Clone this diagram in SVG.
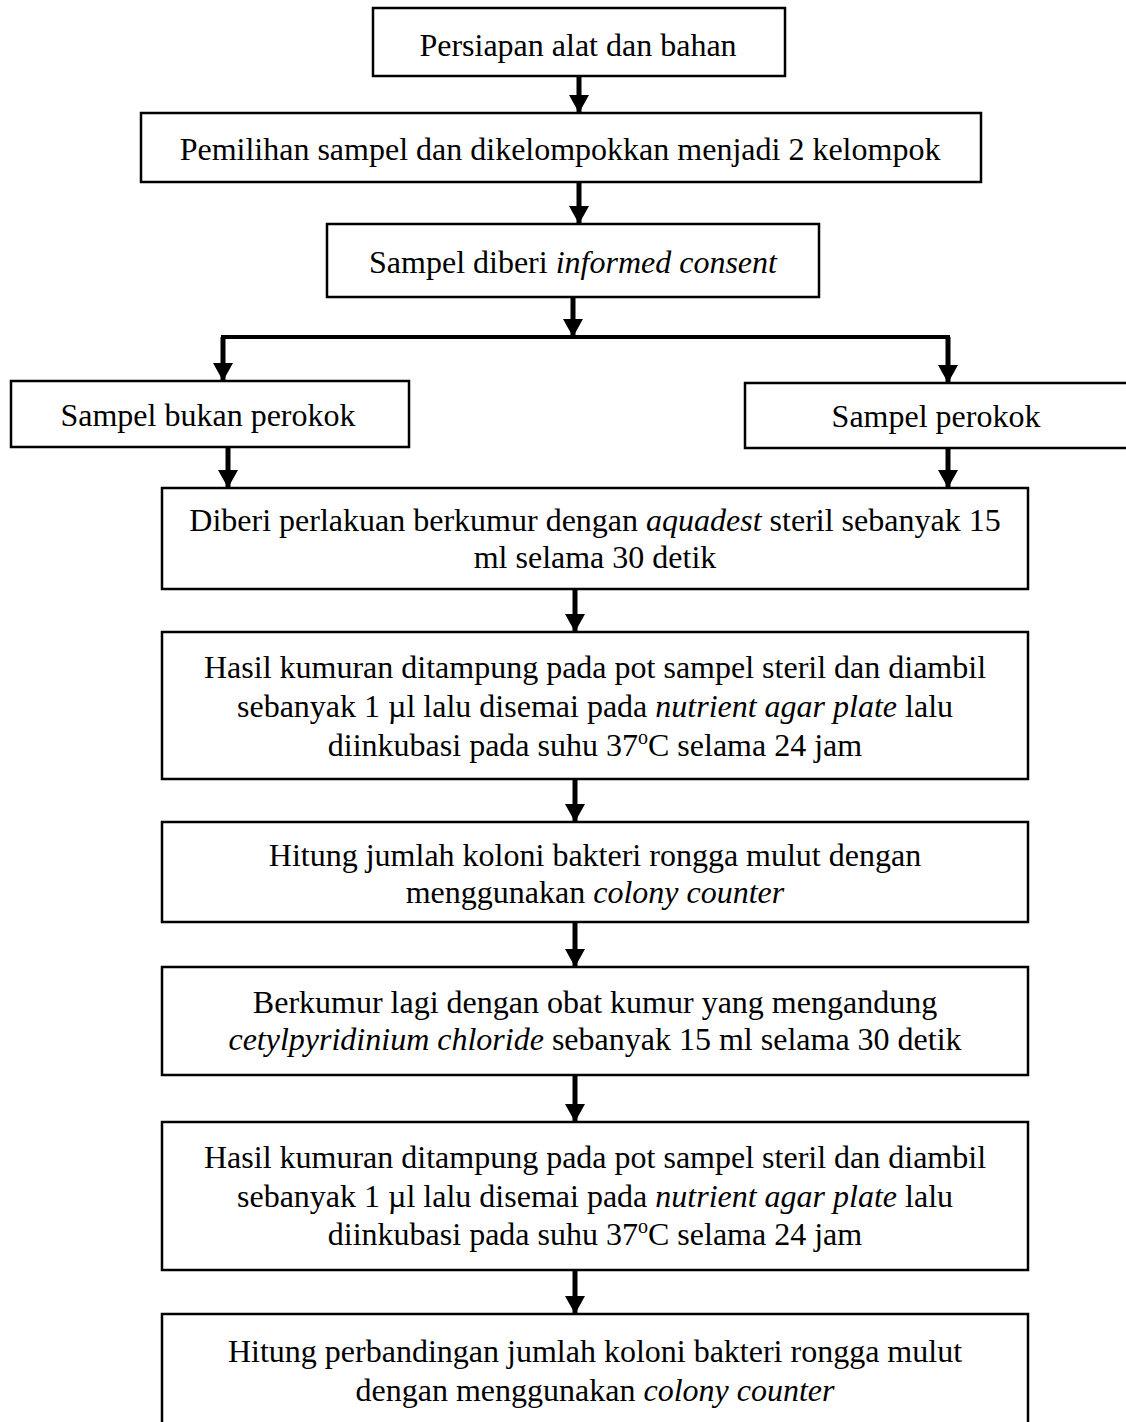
<svg xmlns="http://www.w3.org/2000/svg" width="1126" height="1422" viewBox="0 0 1126 1422">
<style>
  .box { fill: #fff; stroke: #000; stroke-width: 2.5; }
  .t { font-family: "Liberation Serif", "Times New Roman", serif; font-size: 32px; fill: #000; text-anchor: middle; }
  .i { font-style: italic; }
  .c { fill: none; stroke: #000; stroke-width: 5; }
  .br { fill: none; stroke: #000; stroke-width: 4; }
</style>
<defs>
  <marker id="ah" markerUnits="userSpaceOnUse" viewBox="0 0 18 20" refX="18" refY="10" markerWidth="18" markerHeight="20" orient="auto">
    <path d="M0,0 L18,10 L0,20 z" fill="#000"/>
  </marker>
</defs>
<rect width="1126" height="1422" fill="#fff"/>

<g id="connectors">
  <path class="c" d="M579,77 V113" marker-end="url(#ah)"/>
  <path class="c" d="M579,183 V224" marker-end="url(#ah)"/>
  <path class="c" d="M573,298 V337" marker-end="url(#ah)"/>
  <path class="br" d="M223,380 V337 H948 V383"/>
  <path class="c" d="M223,337 V381" marker-end="url(#ah)"/>
  <path class="c" d="M948,337 V383" marker-end="url(#ah)"/>
  <path class="c" d="M228,448 V488" marker-end="url(#ah)"/>
  <path class="c" d="M948,449 V488" marker-end="url(#ah)"/>
  <path class="c" d="M575,590 V632" marker-end="url(#ah)"/>
  <path class="c" d="M575,780 V822" marker-end="url(#ah)"/>
  <path class="c" d="M575,923 V967" marker-end="url(#ah)"/>
  <path class="c" d="M575,1076 V1122" marker-end="url(#ah)"/>
  <path class="c" d="M575,1271 V1314" marker-end="url(#ah)"/>
</g>

<g id="n1">
  <rect class="box" x="373" y="8" width="412" height="68"/>
  <text class="t" x="578" y="56">Persiapan alat dan bahan</text>
</g>
<g id="n2">
  <rect class="box" x="141" y="113" width="840" height="69"/>
  <text class="t" x="560" y="160">Pemilihan sampel dan dikelompokkan menjadi 2 kelompok</text>
</g>
<g id="n3">
  <rect class="box" x="327" y="224" width="492" height="73"/>
  <text class="t" x="573" y="273">Sampel diberi <tspan class="i">informed consent</tspan></text>
</g>
<g id="n4">
  <rect class="box" x="11" y="381" width="398" height="66"/>
  <text class="t" x="208" y="426">Sampel bukan perokok</text>
</g>
<g id="n5">
  <rect class="box" x="745" y="383" width="400" height="65"/>
  <text class="t" x="936" y="427">Sampel perokok</text>
</g>
<g id="n6">
  <rect class="box" x="162" y="488" width="866" height="101"/>
  <text class="t" x="595" y="531">Diberi perlakuan berkumur dengan <tspan class="i">aquadest</tspan> steril sebanyak 15</text>
  <text class="t" x="595" y="568">ml selama 30 detik</text>
</g>
<g id="n7">
  <rect class="box" x="162" y="632" width="866" height="147"/>
  <text class="t" x="595" y="678">Hasil kumuran ditampung pada pot sampel steril dan diambil</text>
  <text class="t" x="595" y="717">sebanyak 1 µl lalu disemai pada <tspan class="i">nutrient agar plate</tspan> lalu</text>
  <text class="t" x="595" y="756">diinkubasi pada suhu 37<tspan dy="-12" font-size="20">o</tspan><tspan dy="12">C selama 24 jam</tspan></text>
</g>
<g id="n8">
  <rect class="box" x="162" y="822" width="866" height="100"/>
  <text class="t" x="595" y="866">Hitung jumlah koloni bakteri rongga mulut dengan</text>
  <text class="t" x="595" y="903">menggunakan <tspan class="i">colony counter</tspan></text>
</g>
<g id="n9">
  <rect class="box" x="162" y="967" width="866" height="108"/>
  <text class="t" x="595" y="1013">Berkumur lagi dengan obat kumur yang mengandung</text>
  <text class="t" x="595" y="1050"><tspan class="i">cetylpyridinium chloride</tspan> sebanyak 15 ml selama 30 detik</text>
</g>
<g id="n10">
  <rect class="box" x="162" y="1122" width="866" height="148"/>
  <text class="t" x="595" y="1168">Hasil kumuran ditampung pada pot sampel steril dan diambil</text>
  <text class="t" x="595" y="1207">sebanyak 1 µl lalu disemai pada <tspan class="i">nutrient agar plate</tspan> lalu</text>
  <text class="t" x="595" y="1245">diinkubasi pada suhu 37<tspan dy="-12" font-size="20">o</tspan><tspan dy="12">C selama 24 jam</tspan></text>
</g>
<g id="n11">
  <rect class="box" x="162" y="1314" width="866" height="150"/>
  <text class="t" x="595" y="1362">Hitung perbandingan jumlah koloni bakteri rongga mulut</text>
  <text class="t" x="595" y="1401">dengan menggunakan <tspan class="i">colony counter</tspan></text>
</g>
</svg>
